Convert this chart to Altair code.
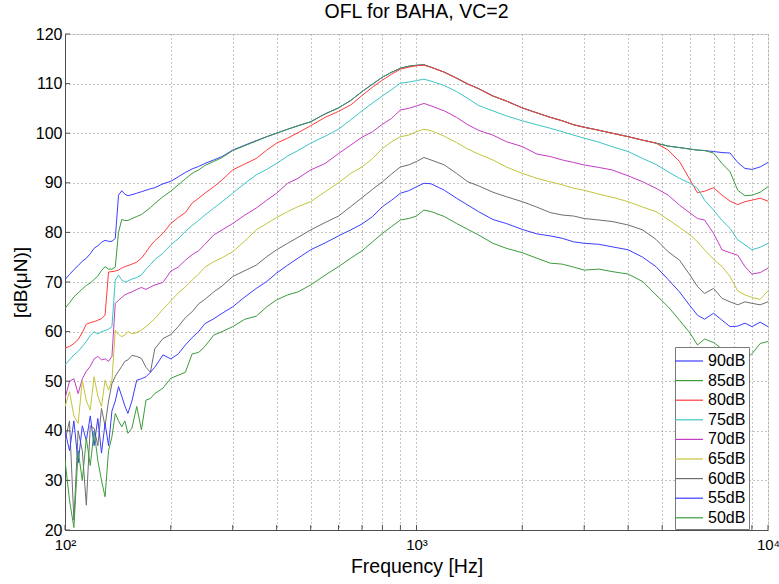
import altair as alt
import pandas as pd

FONT = "Liberation Sans"

FREQ = [100, 103, 106, 109, 112, 115, 118, 121, 124, 127, 130, 133, 136, 139,
        142, 145, 148, 151, 155, 160, 165, 170, 175, 180,
        190, 200, 210, 220, 230, 240, 250,
        265, 280, 300, 325, 350, 375, 400,
        430, 460, 500, 550, 600, 650, 700, 750, 800,
        850, 900, 950, 1000, 1050, 1100,
        1200, 1300, 1400, 1500, 1650, 1800, 2000,
        2200, 2400, 2600, 2800, 3000,
        3300, 3600, 4000, 4400, 4800,
        5200, 5600, 6000, 6300, 6600, 7000,
        7400, 7800, 8200, 8600, 9000, 9500, 10000]

SERIES = ["90dB", "85dB", "80dB", "75dB", "70dB", "65dB", "60dB", "55dB", "50dB"]
COLORS = ["#3c3cff", "#3c9c3c", "#ff3c3c", "#3cc4c4", "#c43cc4", "#c4c43c",
          "#6e6e6e", "#3c3cff", "#3c9c3c"]

S90 = [70.5, 71.5, 72.5, 73.3, 74.2, 74.8, 75.7, 76.8, 77.3, 78.0, 78.4, 78.2, 78.2, 78.8,
       87.5, 88.4, 87.7, 87.4, 87.6, 87.9, 88.2, 88.5, 88.8, 89.0,
       89.8, 90.3, 91.2, 92.1, 92.8, 93.3, 93.9,
       94.6, 95.3, 96.6, 97.6, 98.5, 99.3, 100.0,
       100.8, 101.5, 102.3, 103.9, 105.1, 106.6, 108.4, 109.9, 111.3,
       112.3, 113.1, 113.5, 113.7, 113.8, 113.3,
       112.3, 111.1, 109.9, 109.0, 107.5, 106.5, 105.1,
       104.1, 103.2, 102.5, 101.7, 101.2,
       100.6, 100.0, 99.3, 98.6, 98.0,
       97.4, 97.1, 96.8, 96.6, 96.5, 96.3,
       96.1, 96.0, 94.1, 92.9, 92.7, 93.2, 94.1]

S85 = [64.7, 65.8, 67.0, 67.8, 68.6, 69.3, 69.8, 70.5, 71.2, 72.3, 73.1, 72.6, 72.6, 73.0,
       80.0, 82.6, 82.4, 82.4, 82.8, 83.2, 83.6, 84.3, 85.0, 85.8,
       87.2, 88.3, 89.6, 90.8, 91.9, 92.6, 93.5,
       94.3, 95.1, 96.5, 97.5, 98.4, 99.3, 100.0,
       100.8, 101.5, 102.3, 103.9, 105.1, 106.6, 108.4, 109.9, 111.3,
       112.3, 113.1, 113.5, 113.7, 113.8, 113.3,
       112.3, 111.1, 109.9, 109.0, 107.5, 106.5, 105.1,
       104.1, 103.2, 102.5, 101.7, 101.2,
       100.6, 100.0, 99.3, 98.6, 98.0,
       97.4, 97.1, 96.8, 96.6, 96.5, 96.0,
       93.9, 92.2, 88.5, 87.4, 87.5, 88.1, 89.2]

S80 = [56.7, 57.0, 57.6, 58.4, 59.8, 61.5, 61.8, 62.0, 62.3, 62.6, 63.3, 72.0, 72.1, 72.2,
       72.4, 72.8, 73.1, 73.3, 73.6, 74.0, 74.8, 76.0, 77.3, 78.3,
       79.8, 81.8, 83.0, 84.0, 85.9, 86.9, 87.9,
       89.2, 90.6, 92.6, 93.8, 94.9, 96.6, 98.0,
       99.0, 100.1, 101.5, 103.2, 104.4, 105.7, 107.6, 109.3, 110.7,
       111.9, 112.9, 113.3, 113.6, 113.7, 113.3,
       112.3, 111.1, 109.9, 109.0, 107.5, 106.5, 105.1,
       104.1, 103.2, 102.5, 101.7, 101.2,
       100.6, 100.0, 99.3, 98.6, 98.0,
       96.6, 94.3, 90.6, 88.0, 88.3, 89.0,
       87.5, 86.3, 85.6, 86.2, 86.5, 86.9, 86.3]

S75 = [53.3, 54.3, 55.3, 56.0, 57.0, 58.0, 59.2, 60.0, 59.5, 60.0, 60.2, 60.5, 61.0, 70.4,
       71.4, 70.4, 70.0, 70.2, 70.6, 70.9, 71.4, 72.6, 73.5, 74.5,
       75.8, 77.5, 78.7, 80.2, 81.4, 82.4, 83.5,
       84.9, 86.2, 87.9, 89.9, 91.6, 92.7, 93.9,
       95.4, 96.5, 98.0, 99.4, 100.8, 102.7, 104.5, 106.1, 107.5,
       108.8, 110.1, 110.3, 110.6, 110.9, 110.5,
       109.6, 108.4, 107.0, 105.6, 104.5, 103.5, 102.5,
       101.7, 101.0, 100.3, 99.6, 99.0,
       98.2, 97.3, 96.3, 94.9, 93.7,
       92.2, 90.9, 89.9, 88.9, 86.5, 84.5,
       82.4, 80.8, 78.5, 77.5, 76.5, 77.0, 77.8]

S70 = [46.5, 50.0, 50.5, 47.5, 50.5, 52.0, 53.0, 54.5, 55.0, 54.3, 54.5, 54.0, 55.0, 65.7,
       66.3, 66.9, 67.4, 67.7, 68.0, 68.5, 68.9, 68.5, 69.0, 69.4,
       69.9, 72.2, 73.0, 74.4, 75.5, 76.3, 77.6,
       79.5, 80.5, 81.8, 83.5, 84.9, 86.5, 87.9,
       89.9, 90.9, 92.6, 93.9, 95.9, 97.6, 99.2, 100.3, 101.8,
       103.0, 104.7, 105.0, 105.5, 106.0, 105.5,
       104.5, 103.2, 101.7, 100.6, 99.6, 98.3, 97.3,
       95.8, 95.3, 94.6, 94.1, 93.6,
       93.1, 92.6, 91.4, 90.2, 88.9,
       87.5, 85.5, 83.9, 82.8, 82.5, 79.8,
       76.5, 75.9, 75.4, 73.1, 71.6, 71.9, 72.8]

S65 = [44.9, 47.9, 43.0, 41.5, 50.2, 46.0, 44.2, 50.9, 47.0, 44.9, 50.2, 48.2, 50.2, 60.3,
       59.4, 59.0, 59.3, 60.0, 59.6, 59.8, 60.3, 61.0, 61.8, 62.6,
       64.5, 66.2, 67.8, 69.0, 70.4, 71.6, 73.0,
       74.1, 74.9, 76.1, 78.3, 80.5, 81.8, 83.0,
       84.2, 85.2, 86.2, 88.2, 90.0, 91.9, 93.2, 94.9, 96.9,
       98.3, 99.3, 99.6, 100.3, 100.8, 100.5,
       99.4, 98.1, 96.8, 95.8, 94.6, 93.2, 91.9,
       90.9, 90.2, 89.6, 88.9, 88.5,
       87.7, 87.1, 86.2, 85.1, 84.2,
       82.6, 81.0, 79.5, 78.1, 76.5, 74.6,
       73.1, 71.1, 68.2, 67.4, 66.9, 66.5, 68.2]

S60 = [38.0, 42.0, 22.0, 40.0, 36.0, 25.0, 41.0, 40.5, 37.0, 44.5, 41.0, 46.0, 49.5, 51.0,
       52.0, 53.0, 54.0, 54.3, 55.2, 55.0, 54.6, 52.8, 51.8, 56.5,
       58.6, 59.4, 61.0, 62.8, 64.0, 65.6, 66.5,
       68.0, 69.2, 71.1, 72.3, 73.4, 75.1, 76.5,
       77.8, 79.0, 80.5, 82.0, 83.3, 85.2, 87.0, 88.7, 90.2,
       91.8, 93.2, 93.6, 94.3, 95.1, 94.6,
       93.6, 91.9, 90.2, 89.4, 88.1, 87.2, 86.2,
       85.1, 84.0, 83.5, 83.3, 82.8,
       82.5, 82.2, 81.5, 80.5, 78.6,
       76.1, 74.4, 71.4, 69.1, 67.7, 68.7,
       66.7, 66.0, 65.4, 66.0, 65.7, 65.4, 66.0]

S55 = [40.0, 36.0, 42.0, 33.5, 41.0, 38.0, 43.0, 37.0, 42.5, 35.5, 41.5, 37.0, 44.0, 46.0,
       48.9, 47.0, 45.0, 43.5, 46.0, 50.2, 50.5, 50.9, 51.8, 52.8,
       55.3, 54.5, 55.5, 57.3, 58.8, 60.0, 61.6,
       62.6, 63.7, 65.0, 67.0, 68.7, 70.1, 71.8,
       73.4, 74.8, 76.5, 77.9, 79.3, 80.5, 81.7, 83.2, 85.2,
       86.5, 87.9, 88.4, 89.2, 89.9, 89.8,
       88.5, 86.9, 85.5, 84.2, 82.6, 81.8, 80.6,
       79.7, 79.3, 78.8, 78.1, 77.8,
       77.6, 77.1, 76.5, 75.0, 73.1,
       70.5, 68.0, 65.2, 63.3, 62.5, 63.7,
       62.3, 61.0, 61.1, 61.7, 61.0, 61.9, 61.0]

S50 = [34.1, 26.0, 20.5, 36.0, 30.0, 38.5, 33.0, 40.0, 34.0, 30.0, 26.7, 36.0, 38.8, 43.5,
       42.0, 40.8, 42.0, 39.5, 40.5, 44.9, 40.2, 46.2, 46.5, 47.5,
       48.6, 50.6, 51.2, 51.8, 55.5, 55.8, 57.0,
       59.3, 60.0, 61.0, 62.5, 63.1, 65.0, 66.4,
       67.4, 68.0, 69.4, 71.4, 73.1, 74.8, 76.3, 78.1, 79.8,
       81.2, 82.5, 82.8, 83.3, 84.5, 84.2,
       83.2, 81.8, 80.6, 79.5, 77.8, 76.8, 75.9,
       74.8, 73.8, 73.6, 73.0, 72.4,
       72.6, 72.1, 71.6, 70.1, 67.4,
       65.0, 62.3, 59.7, 57.3, 58.5, 57.8,
       56.5, 55.5, 55.0, 54.5, 55.5, 57.6, 58.0]

XTICKS = [100, 200, 300, 400, 500, 600, 700, 800, 900,
          1000, 2000, 3000, 4000, 5000, 6000, 7000, 8000, 9000, 10000]
YTICKS = [20, 30, 40, 50, 60, 70, 80, 90, 100, 110, 120]

W, H = 703, 496

rows = []
for k, (name, vals) in enumerate(zip(SERIES, [S90, S85, S80, S75, S70, S65, S60, S55, S50])):
    for f, v in zip(FREQ, vals):
        rows.append({"f": f, "v": v, "s": name, "k": k})
df = pd.DataFrame(rows)

xscale = alt.Scale(type="log", domain=[100, 10000], nice=False)
yscale = alt.Scale(domain=[20, 120], nice=False, zero=False)

xaxis = alt.Axis(
    values=XTICKS,
    labelExpr="datum.value == 100 ? '10²' : datum.value == 1000 ? '10³' : datum.value == 10000 ? '10⁴' : ''",
    grid=True, gridDash=[1, 3], gridColor="#8a8a8a", gridWidth=1,
    ticks=False, domainColor="#505050", domainWidth=1,
    labelFont=FONT, labelFontSize=15, labelColor="#000", labelPadding=7,
    labelFlush=False, labelOverlap=False,
    title="Frequency [Hz]", titleFont=FONT, titleFontSize=19.5, titleFontWeight="normal",
    titleColor="#000", titleX=W / 2, titleY=42, titleBaseline="alphabetic", titleAlign="center",
)
yaxis = alt.Axis(
    values=YTICKS,
    grid=True, gridDash=[1, 3], gridColor="#8a8a8a", gridWidth=1,
    ticks=False, domainColor="#505050", domainWidth=1,
    labelFont=FONT, labelFontSize=16, labelColor="#000", labelPadding=3,
    labelFlush=False, labelOverlap=False,
    title="[dB(μN)]", titleFont=FONT, titleFontSize=19, titleFontWeight="normal",
    titleColor="#000", titleX=-45, titleY=H / 2, titleAngle=270,
    titleBaseline="middle", titleAlign="center",
)

lines = alt.Chart(df).mark_line(strokeWidth=1, clip=True).encode(
    x=alt.X("f:Q", scale=xscale, axis=xaxis),
    y=alt.Y("v:Q", scale=yscale, axis=yaxis),
    color=alt.Color(
        "s:N",
        scale=alt.Scale(domain=SERIES, range=COLORS),
        sort=SERIES,
        legend=alt.Legend(
            title=None, orient="none", legendX=610, legendY=313,
            fillColor="white", strokeColor="#7a7a7a", padding=3,
            symbolType="M-1.4,0H1.4", symbolSize=400, symbolStrokeWidth=1.2,
            symbolFillColor="transparent",
            labelFont=FONT, labelFontSize=16, labelColor="#000",
            labelOffset=8, rowPadding=0.6, offset=0,
        ),
    ),
    detail="k:O",
)

xt = alt.Chart(pd.DataFrame({"f": XTICKS})).mark_rule(color="#505050", strokeWidth=1).encode(
    x=alt.X("f:Q", scale=xscale, axis=xaxis),
    y=alt.value(H), y2=alt.value(H - 5),
)
yt = alt.Chart(pd.DataFrame({"v": YTICKS})).mark_rule(color="#505050", strokeWidth=1).encode(
    y=alt.Y("v:Q", scale=yscale, axis=yaxis),
    x=alt.value(0), x2=alt.value(5),
)

chart = alt.layer(lines, xt, yt).properties(
    width=W, height=H,
    title=alt.TitleParams("OFL for BAHA, VC=2", font=FONT, fontSize=19.5, fontWeight="normal",
                          color="#000", anchor="middle", offset=4),
    autosize=alt.AutoSizeParams(type="none"),
    padding={"left": 65, "top": 34, "right": 11, "bottom": 54},
).configure_view(stroke=None).configure(background="white")

chart.save("out.html", embed_options={"renderer": "svg", "actions": False})
